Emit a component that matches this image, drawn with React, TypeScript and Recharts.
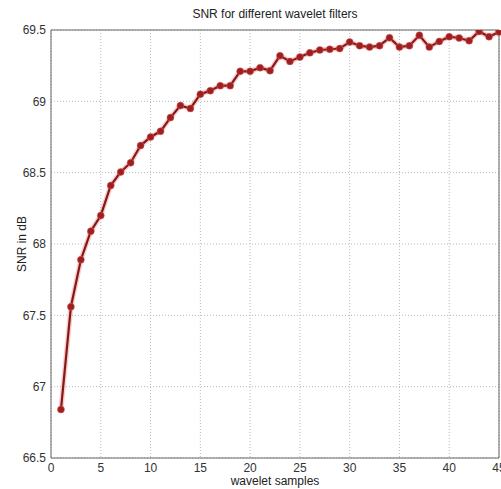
import { LineChart, Line, XAxis, YAxis, CartesianGrid, ReferenceLine } from 'recharts';

const samples = [
  1, 2, 3, 4, 5, 6, 7, 8, 9, 10, 11, 12, 13, 14, 15, 16, 17, 18, 19, 20, 21, 22, 23,
  24, 25, 26, 27, 28, 29, 30, 31, 32, 33, 34, 35, 36, 37, 38, 39, 40, 41, 42, 43, 44, 45,
];
const snr = [
  66.84, 67.56, 67.89, 68.09, 68.2, 68.41, 68.505, 68.57, 68.69, 68.75, 68.79, 68.886, 68.97,
  68.95, 69.05, 69.075, 69.11, 69.11, 69.21, 69.21, 69.236, 69.215, 69.32, 69.28, 69.31, 69.34,
  69.36, 69.365, 69.37, 69.416, 69.39, 69.38, 69.39, 69.446, 69.38, 69.39, 69.463, 69.38, 69.42,
  69.453, 69.444, 69.425, 69.49, 69.453, 69.486,
];
const xTicks = [0, 5, 10, 15, 20, 25, 30, 35, 40, 45];
const yTicks = [66.5, 67, 67.5, 68, 68.5, 69, 69.5];

const data = samples.map((s, i) => ({ n: s, snr: snr[i] }));

const font = '"Liberation Sans", Arial, sans-serif';
const tick = { fontSize: 12, fill: '#333', fontFamily: font };

export default function App() {
  return (
    <div style={{ position: 'absolute', left: 0, top: 0, width: 501, height: 489, background: '#fff', fontFamily: font }}>
      <div style={{ position: 'absolute', top: 7, left: 51, width: 448, textAlign: 'center', fontSize: 12, color: '#222' }}>
        SNR for different wavelet filters
      </div>
      <LineChart width={501} height={489} data={data} margin={{ top: 30, right: 2, left: 0, bottom: 0 }}>
        <CartesianGrid stroke="#b8b8b8" strokeDasharray="1 2" />
        <XAxis
          dataKey="n"
          type="number"
          domain={[0, 45]}
          ticks={xTicks}
          height={31}
          tickSize={0}
          tickMargin={5}
          tick={tick}
          stroke="#666"
          interval={0}
          label={{ value: 'wavelet samples', position: 'insideBottom', offset: 4, style: { ...tick, fill: '#222' } }}
        />
        <YAxis
          type="number"
          domain={[66.5, 69.5]}
          ticks={yTicks}
          width={51}
          tickSize={0}
          tickMargin={5}
          tick={tick}
          stroke="#666"
          interval={0}
          allowDataOverflow
          label={{ value: 'SNR in dB', angle: -90, position: 'insideLeft', offset: 22, style: { ...tick, fill: '#222', textAnchor: 'middle' } }}
        />
        <ReferenceLine y={69.5} stroke="#666" />
        <ReferenceLine x={45} stroke="#666" />
        <Line dataKey="snr" stroke="#f08080" strokeOpacity={0.4} strokeWidth={5} dot={false} isAnimationActive={false} />
        <Line
          dataKey="snr"
          stroke="#861818"
          strokeWidth={2.2}
          dot={{ r: 3.5, fill: '#9e1f1f', stroke: '#e06060', strokeOpacity: 0.5, strokeWidth: 1 }}
          isAnimationActive={false}
        />
      </LineChart>
    </div>
  );
}
